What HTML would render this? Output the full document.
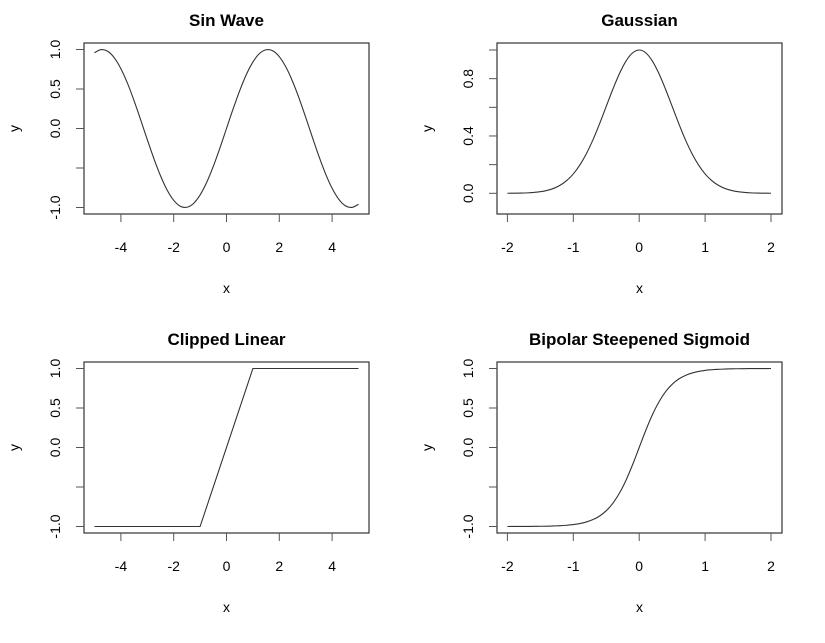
<!DOCTYPE html>
<html><head><meta charset="utf-8"><style>
body{margin:0;background:#fff}
svg text{font-family:"Liberation Sans",sans-serif;fill:#000}
</style></head><body>
<svg id="c" width="825" height="638" xmlns="http://www.w3.org/2000/svg"></svg>
<script>
const sinX=[-5,-4.75,-4.5,-4.25,-4,-3.75,-3.5,-3.25,-3,-2.75,-2.5,-2.25,-2,-1.75,-1.5,-1.25,-1,-0.75,-0.5,-0.25,0,0.25,0.5,0.75,1,1.25,1.5,1.75,2,2.25,2.5,2.75,3,3.25,3.5,3.75,4,4.25,4.5,4.75,5];
const sinY=[0.959,0.999,0.978,0.895,0.757,0.572,0.351,0.108,-0.141,-0.382,-0.598,-0.778,-0.909,-0.984,-0.997,-0.949,-0.841,-0.682,-0.479,-0.247,0,0.247,0.479,0.682,0.841,0.949,0.997,0.984,0.909,0.778,0.598,0.382,0.141,-0.108,-0.351,-0.572,-0.757,-0.895,-0.978,-0.999,-0.959];
const gX=[-2,-1.9,-1.8,-1.7,-1.6,-1.5,-1.4,-1.3,-1.2,-1.1,-1,-0.9,-0.8,-0.7,-0.6,-0.5,-0.4,-0.3,-0.2,-0.1,0,0.1,0.2,0.3,0.4,0.5,0.6,0.7,0.8,0.9,1,1.1,1.2,1.3,1.4,1.5,1.6,1.7,1.8,1.9,2];
const gY=[0.0003,0.0007,0.0015,0.003,0.006,0.011,0.02,0.034,0.056,0.089,0.135,0.198,0.278,0.375,0.487,0.607,0.726,0.835,0.923,0.98,1,0.98,0.923,0.835,0.726,0.607,0.487,0.375,0.278,0.198,0.135,0.089,0.056,0.034,0.02,0.011,0.006,0.003,0.0015,0.0007,0.0003];
const clX=[-5,-1,1,5];
const clY=[-1,-1,1,1];
const sgX=gX;
const sgY=[-1,-0.9995,-0.999,-0.999,-0.998,-0.997,-0.996,-0.993,-0.99,-0.984,-0.976,-0.963,-0.942,-0.912,-0.867,-0.8,-0.706,-0.578,-0.414,-0.217,0,0.217,0.414,0.578,0.706,0.8,0.867,0.912,0.942,0.963,0.976,0.984,0.99,0.993,0.996,0.997,0.998,0.999,0.999,0.9995,1];
const xt5=[-4,-2,0,2,4], xt2=[-2,-1,0,1,2];
const yt1=[-1,-0.5,0,0.5,1], ytLab1=["-1.0","","0.0","0.5","1.0"];
const ytG=[0,0.2,0.4,0.6,0.8,1.0], ytLabG=["0.0","","0.4","","0.8",""];
const svg=document.getElementById('c');
const NS='http://www.w3.org/2000/svg';
function mk(t,a,name){const e=document.createElementNS(NS,t);for(const k in a)e.setAttribute(k,a[k]);


svg.appendChild(e);return e;}
function smooth(P,curved){
 if(!curved) return P.map((p,i)=>(i?'L':'M')+p[0].toFixed(2)+','+p[1].toFixed(2)).join('');
 let d='M'+P[0][0].toFixed(2)+','+P[0][1].toFixed(2);
 for(let i=0;i<P.length-1;i++){
  const p0=P[Math.max(0,i-1)],p1=P[i],p2=P[i+1],p3=P[Math.min(P.length-1,i+2)];
  const c1=[p1[0]+(p2[0]-p0[0])/6,p1[1]+(p2[1]-p0[1])/6];
  const c2=[p2[0]-(p3[0]-p1[0])/6,p2[1]-(p3[1]-p1[1])/6];
  d+='C'+c1.map(v=>v.toFixed(2)).join(',')+' '+c2.map(v=>v.toFixed(2)).join(',')+' '+p2[0].toFixed(2)+','+p2[1].toFixed(2);
 }
 return d;
}
function panel(o){
 const L=o.left,T=o.top,R=L+285,B=T+171;
 const xr=o.xmin, xs=o.xs, x0=o.x0;
 const sx=v=>x0+(v-xr)*xs;
 const sy=v=>o.y0-(v-o.ymin)*o.ys;
 mk('rect',{x:L,y:T,width:R-L,height:B-T,fill:'none',stroke:'#333','stroke-width':1.2},'plot-box');
 let t=mk('text',{x:(L+R)/2,y:T-17,'text-anchor':'middle','font-size':17,'font-weight':'bold'},'chart-title');t.textContent=o.title;
 mk('line',{x1:sx(o.xt[0]),x2:sx(o.xt[o.xt.length-1]),y1:B,y2:B,stroke:'#333'},'x-axis-line');
 o.xt.forEach(v=>{mk('line',{x1:sx(v),x2:sx(v),y1:B,y2:B+8,stroke:'#555'},'x-tick');
  const e=mk('text',{x:sx(v),y:B+38,'text-anchor':'middle','font-size':14},'x-tick-label');e.textContent=String(v);});
 mk('line',{x1:L,x2:L,y1:sy(o.yt[0]),y2:sy(o.yt[o.yt.length-1]),stroke:'#333'},'y-axis-line');
 o.yt.forEach((v,i)=>{mk('line',{x1:L-8,x2:L,y1:sy(v),y2:sy(v),stroke:'#555'},'y-tick');
  if(o.ytl[i]){const e=mk('text',{x:L-29,y:sy(v),'text-anchor':'middle','font-size':14,transform:`rotate(-90 ${L-29} ${sy(v)})`,dy:5},'y-tick-label');e.textContent=o.ytl[i];}});
 t=mk('text',{x:(L+R)/2,y:B+79,'text-anchor':'middle','font-size':14},'x-axis-title');t.textContent='x';
 const yy=(T+B)/2;
 t=mk('text',{x:L-70,y:yy,'text-anchor':'middle','font-size':14,transform:`rotate(-90 ${L-70} ${yy})`,dy:5},'y-axis-title');t.textContent='y';
 const P=o.X.map((v,i)=>[sx(v),sy(o.Y[i])]);
 mk('path',{d:smooth(P,o.X.length>5),fill:'none',stroke:'#333','stroke-width':1.1},'series-line');
}
panel({left:84,top:43,title:'Sin Wave',xmin:0,x0:226.5,xs:26.4,ymin:0,y0:128.5,ys:79,xt:xt5,yt:yt1,ytl:ytLab1,X:sinX,Y:sinY});
panel({left:497,top:43,title:'Gaussian',xmin:0,x0:639.2,xs:65.9,ymin:0,y0:193.3,ys:143.3,xt:xt2,yt:ytG,ytl:ytLabG,X:gX,Y:gY});
panel({left:84,top:362,title:'Clipped Linear',xmin:0,x0:226.5,xs:26.4,ymin:0,y0:447.5,ys:79,xt:xt5,yt:yt1,ytl:ytLab1,X:clX,Y:clY});
panel({left:497,top:362,title:'Bipolar Steepened Sigmoid',xmin:0,x0:639.2,xs:65.9,ymin:0,y0:447.5,ys:79,xt:xt2,yt:yt1,ytl:ytLab1,X:sgX,Y:sgY});
</script>
</body></html>
